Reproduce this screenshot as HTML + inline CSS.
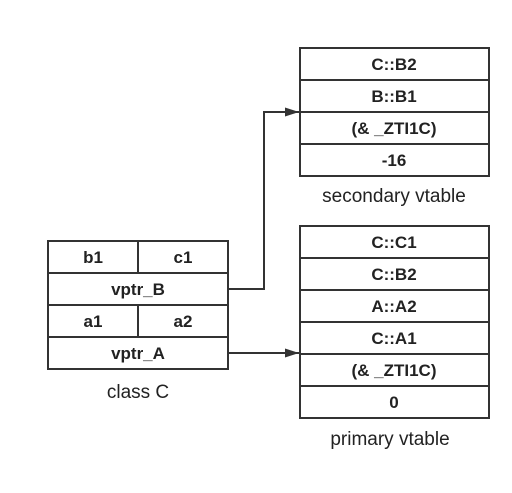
<!DOCTYPE html>
<html><head><meta charset="utf-8"><style>
body{margin:0;background:#fff;width:512px;height:488px;overflow:hidden}
svg text{font-family:"Liberation Sans","Noto Sans CJK SC",sans-serif;fill:#222}
.c{font-weight:bold;font-size:17px}
.l{font-size:19px}
</style></head><body>
<svg width="512" height="488">
<defs><marker id="ah" markerWidth="14" markerHeight="9" refX="14" refY="4.5" orient="auto" markerUnits="userSpaceOnUse"><path d="M0,0 L14,4.5 L0,9 z" fill="#333"/></marker></defs>
<g stroke="#333" stroke-width="2" fill="none">
<g>
<rect x="48" y="241" width="180" height="128"/>
<line x1="48" y1="273" x2="228" y2="273"/><line x1="48" y1="305" x2="228" y2="305"/><line x1="48" y1="337" x2="228" y2="337"/>
<line x1="138" y1="241" x2="138" y2="273"/><line x1="138" y1="305" x2="138" y2="337"/>
</g>
<g>
<rect x="300" y="48" width="189" height="128"/>
<line x1="300" y1="80" x2="489" y2="80"/><line x1="300" y1="112" x2="489" y2="112"/><line x1="300" y1="144" x2="489" y2="144"/>
</g>
<g>
<rect x="300" y="226" width="189" height="192"/>
<line x1="300" y1="258" x2="489" y2="258"/><line x1="300" y1="290" x2="489" y2="290"/><line x1="300" y1="322" x2="489" y2="322"/><line x1="300" y1="354" x2="489" y2="354"/><line x1="300" y1="386" x2="489" y2="386"/>
</g>
<polyline points="228,289 264,289 264,112 299,112" marker-end="url(#ah)"/>
<line x1="228" y1="353" x2="299" y2="353" marker-end="url(#ah)"/>
</g>
<g class="c" text-anchor="middle">
<text x="93" y="263">b1</text><text x="183" y="263">c1</text>
<text x="138" y="295">vptr_B</text>
<text x="93" y="327">a1</text><text x="183" y="327">a2</text>
<text x="138" y="359">vptr_A</text>
<text x="394" y="70">C::B2</text><text x="394" y="102">B::B1</text><text x="394" y="134">(&amp; _ZTI1C)</text><text x="394" y="166">-16</text>
<text x="394" y="248">C::C1</text><text x="394" y="280">C::B2</text><text x="394" y="312">A::A2</text><text x="394" y="344">C::A1</text><text x="394" y="376">(&amp; _ZTI1C)</text><text x="394" y="408">0</text>
</g>
<g class="l" text-anchor="middle">
<text x="138" y="398">class C</text>
<text x="394" y="202">secondary vtable</text>
<text x="390" y="445">primary vtable</text>
</g>
</svg>
</body></html>
